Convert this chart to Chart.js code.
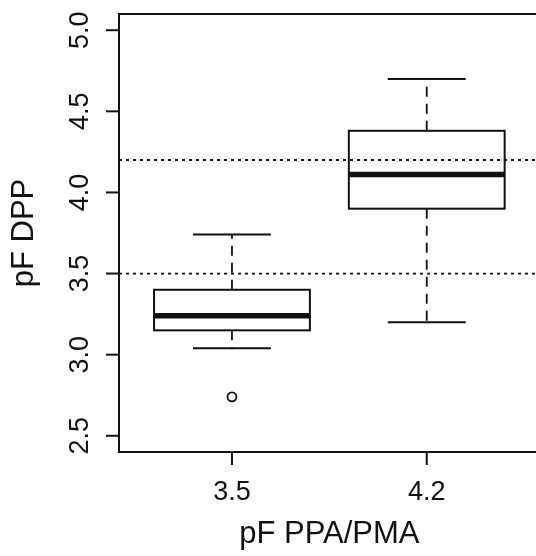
<!DOCTYPE html>
<html>
<head>
<meta charset="utf-8">
<script src="https://cdn.jsdelivr.net/npm/chart.js@4.4.0/dist/chart.umd.min.js"></script>
<style>
  html, body { margin: 0; padding: 0; background: #fff; overflow: hidden; }
  #wrap { width: 546px; height: 556px; }
</style>
</head>
<body>
<div id="wrap"><canvas id="boxChart" width="546" height="556"></canvas></div>
<script>
// data
const groups = ['3.5', '4.2'];
const whiskerLow = [3.04, 3.20];
const boxLow = [3.15, 3.90];
const medians = [3.24, 4.11];
const boxHigh = [3.40, 4.38];
const whiskerHigh = [3.74, 4.70];
const outliers = [[2.74], []];
const refLines = [3.5, 4.2];
const yTicks = [2.5, 3.0, 3.5, 4.0, 4.5, 5.0];
const yTickLabels = ['2.5', '3.0', '3.5', '4.0', '4.5', '5.0'];

const FONT = "'Liberation Sans', Arial, Helvetica, sans-serif";
const boxHalf = 0.4;
const capHalf = 0.2;

// outlier points for the scatter dataset
const outlierPoints = [];
outliers.forEach((vals, i) => vals.forEach(v => outlierPoints.push({ x: i + 1, y: v })));

// boxes, whiskers, reference lines and axes drawn with the chart's scales
const boxPlotPlugin = {
    id: 'boxPlot',
    afterDatasetsDraw(chart) {
        const ctx = chart.ctx;
        const xs = chart.scales.x, ys = chart.scales.y;
        ctx.save();
        ctx.strokeStyle = '#111';
        ctx.lineCap = 'butt';
        groups.forEach((g, i) => {
            const c = xs.getPixelForValue(i + 1);
            const l = xs.getPixelForValue(i + 1 - boxHalf);
            const r = xs.getPixelForValue(i + 1 + boxHalf);
            const cl = xs.getPixelForValue(i + 1 - capHalf);
            const cr = xs.getPixelForValue(i + 1 + capHalf);
            const yLo = ys.getPixelForValue(whiskerLow[i]);
            const yQ1 = ys.getPixelForValue(boxLow[i]);
            const yMed = ys.getPixelForValue(medians[i]);
            const yQ3 = ys.getPixelForValue(boxHigh[i]);
            const yHi = ys.getPixelForValue(whiskerHigh[i]);

            // dashed whiskers
            ctx.lineWidth = 1.8;
            ctx.setLineDash([10, 7]);
            ctx.beginPath();
            ctx.moveTo(c, yQ3); ctx.lineTo(c, yHi);
            ctx.moveTo(c, yQ1); ctx.lineTo(c, yLo);
            ctx.stroke();
            ctx.setLineDash([]);

            // caps
            ctx.lineWidth = 2;
            ctx.beginPath();
            ctx.moveTo(cl, yHi); ctx.lineTo(cr, yHi);
            ctx.moveTo(cl, yLo); ctx.lineTo(cr, yLo);
            ctx.stroke();

            // box
            ctx.strokeRect(l, yQ3, r - l, yQ1 - yQ3);

            // median
            ctx.lineWidth = 5.5;
            ctx.beginPath();
            ctx.moveTo(l, yMed); ctx.lineTo(r, yMed);
            ctx.stroke();
        });

        // dotted reference lines
        const area = chart.chartArea;
        ctx.lineWidth = 1.8;
        ctx.setLineDash([3, 4]);
        refLines.forEach(v => {
            const y = ys.getPixelForValue(v);
            ctx.beginPath();
            ctx.moveTo(area.left, y); ctx.lineTo(area.right, y);
            ctx.stroke();
        });
        ctx.setLineDash([]);
        ctx.restore();
    },
    afterDraw(chart) {
        const ctx = chart.ctx;
        const xs = chart.scales.x, ys = chart.scales.y;
        const area = chart.chartArea;
        ctx.save();
        ctx.strokeStyle = '#111';
        ctx.fillStyle = '#111';
        ctx.lineWidth = 2;

        // frame
        ctx.strokeRect(area.left, area.top, area.right - area.left, area.bottom - area.top);

        // y ticks and rotated labels
        ctx.font = '27px ' + FONT;
        ctx.textAlign = 'center';
        ctx.textBaseline = 'alphabetic';
        yTicks.forEach((v, i) => {
            const y = ys.getPixelForValue(v);
            ctx.beginPath();
            ctx.moveTo(area.left, y); ctx.lineTo(area.left - 13, y);
            ctx.stroke();
            ctx.save();
            ctx.translate(area.left - 31, y);
            ctx.rotate(-Math.PI / 2);
            ctx.fillText(yTickLabels[i], 0, 0);
            ctx.restore();
        });

        // x ticks and labels
        groups.forEach((g, i) => {
            const x = xs.getPixelForValue(i + 1);
            ctx.beginPath();
            ctx.moveTo(x, area.bottom); ctx.lineTo(x, area.bottom + 13);
            ctx.stroke();
            ctx.fillText(g, x, area.bottom + 48);
        });

        // axis titles
        ctx.font = '31px ' + FONT;
        ctx.fillText('pF PPA/PMA', (area.left + area.right) / 2, area.bottom + 91);
        ctx.save();
        ctx.translate(area.left - 86, (area.top + area.bottom) / 2);
        ctx.rotate(-Math.PI / 2);
        ctx.fillText('pF DPP', 0, 0);
        ctx.restore();
        ctx.restore();
    }
};

const ctx = document.getElementById('boxChart').getContext('2d');
new Chart(ctx, {
    type: 'scatter',
    data: {
        datasets: [{
            label: 'outliers',
            data: outlierPoints,
            pointStyle: 'circle',
            pointRadius: 4.5,
            backgroundColor: 'rgba(0,0,0,0)',
            borderColor: '#111',
            borderWidth: 1.8
        }]
    },
    options: {
        responsive: false,
        animation: false,
        devicePixelRatio: 1,
        layout: { padding: { left: 119, top: 14, right: 0, bottom: 104 } },
        plugins: {
            legend: { display: false },
            tooltip: { enabled: false }
        },
        scales: {
            x: { type: 'linear', min: 0.42, max: 2.58, display: false },
            y: { type: 'linear', min: 2.4, max: 5.1, display: false }
        }
    },
    plugins: [boxPlotPlugin]
});
</script>
</body>
</html>
